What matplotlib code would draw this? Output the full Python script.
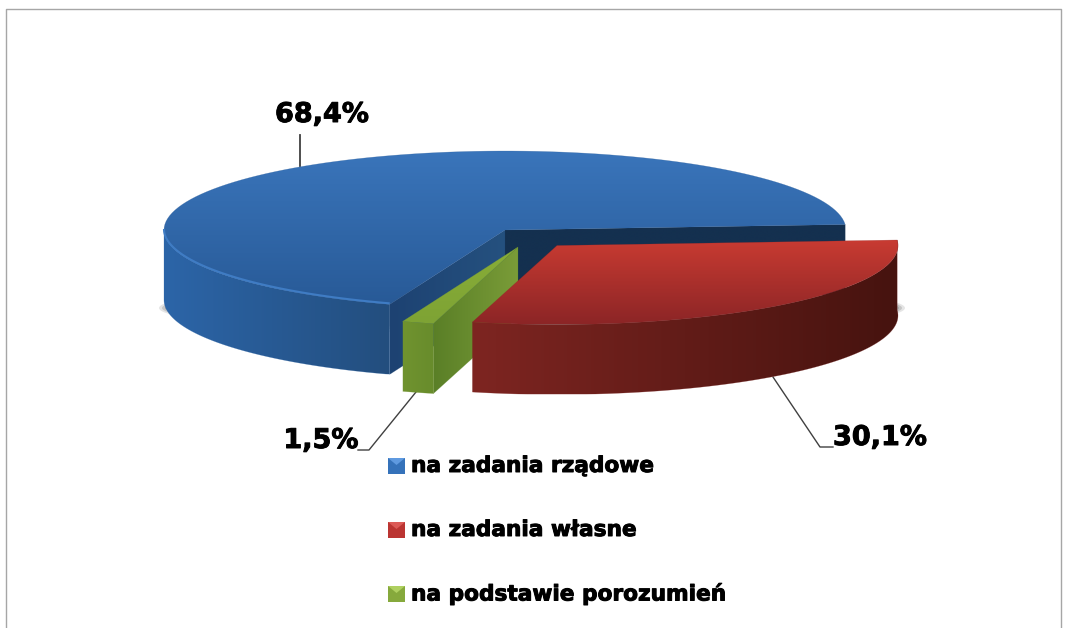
import numpy as np
import matplotlib
matplotlib.use('Agg')
import matplotlib.pyplot as plt
import matplotlib.patheffects as pe
from matplotlib.patches import Polygon, Ellipse
from matplotlib.colors import LinearSegmentedColormap

# data
labels = ['na zadania rządowe', 'na zadania własne', 'na podstawie porozumień']
shares = [68.4, 30.1, 1.5]
pct_labels = ['68,4%', '30,1%', '1,5%']

# pie geometry in pixels
rx, ry, depth = 341, 79, 70
start = 4.0
centers = [(505, 230), (557, 245.5), (518, 247)]

# colors
top_cols = [('#3a75bb', '#285a97'), ('#c93b32', '#8c2526'), ('#88ad38', '#7ea334')]
wall_cols = [('#2c65a8', '#234e7e'), ('#7e2521', '#46130f'), ('#70932f', '#688c2c')]
radial_cols = [('#1d4272', '#25517f'), ('#000000', '#000000'), ('#5a7f27', '#7a9c38')]

fig = plt.figure(figsize=(10.67, 6.28), dpi=100)
ax = fig.add_axes([0, 0, 1, 1])
ax.set_xlim(0, 1067)
ax.set_ylim(628, 0)
ax.axis('off')

z = [10]
heavy = [pe.withStroke(linewidth=0.7, foreground='black')]


def grad(pts, c1, c2, vertical=True):
    # polygon filled with a linear gradient
    pts = np.array(pts)
    cm = LinearSegmentedColormap.from_list('g', [c1, c2])
    g = np.linspace(0, 1, 256)
    g = g.reshape(-1, 1) if vertical else g.reshape(1, -1)
    z[0] += 1
    im = ax.imshow(g, cmap=cm, aspect='auto', zorder=z[0], interpolation='bilinear',
                   extent=[pts[:, 0].min(), pts[:, 0].max(), pts[:, 1].max(), pts[:, 1].min()])
    clip = Polygon(pts, closed=True, transform=ax.transData)
    im.set_clip_path(clip)
    # thin edge to hide the jaggies of the clip
    ax.add_patch(Polygon(pts, closed=True, fill=False, ec=c2 if vertical else c1, lw=0.3, alpha=0.5, zorder=z[0]))


def arc(c, a1, a2, dy=0):
    t = np.radians(np.linspace(a1, a2, 120))
    return np.column_stack([c[0] + rx * np.cos(t), c[1] - ry * np.sin(t) + dy])


# shadow peeking out on both sides
for grow, al in zip([8, 5, 2], [0.2, 0.3, 0.4]):
    ax.add_patch(Ellipse((532, 308), 2 * (365 + grow), 2 * (18 + grow), fc='#808080', ec='none', alpha=al, zorder=1))

# angles of the slices, counted clockwise from the blue one
spans = [s * 3.6 for s in shares]
blue = (start, start + spans[0])
red = (start - spans[1], start)
green = (start - spans[1] - spans[2], start - spans[1])

# blue slice
c = centers[0]
a = arc(c, blue[0], blue[0], 0)[0]
grad([c, a, a + [0, depth], (c[0], c[1] + depth)], '#14304f', '#14304f')
b = arc(c, blue[1], blue[1], 0)[0]
grad([c, b, b + [0, depth], (c[0], c[1] + depth)], radial_cols[0][0], radial_cols[0][1], False)
front = arc(c, 180, blue[1])
grad(np.vstack([front, arc(c, 180, blue[1], depth)[::-1]]), wall_cols[0][0], wall_cols[0][1], False)
grad(np.vstack([[c], arc(c, *blue)]), top_cols[0][0], top_cols[0][1])
z[0] += 1
ax.plot(front[:, 0], front[:, 1] - 1, color='#3f7cc4', lw=1.5, zorder=z[0], solid_capstyle='butt')

# green slice
c = centers[2]
g2 = arc(c, green[1], green[1])[0]
grad([c, g2, g2 + [0, depth], (c[0], c[1] + depth)], radial_cols[2][0], radial_cols[2][1], False)
front = arc(c, green[0], green[1])
grad(np.vstack([front, arc(c, green[0], green[1], depth)[::-1]]), wall_cols[2][0], wall_cols[2][1], False)
grad(np.vstack([[c], front]), top_cols[2][0], top_cols[2][1])

# red slice
c = centers[1]
front = arc(c, red[0], red[1])
grad(np.vstack([front, arc(c, red[0], red[1], depth)[::-1]]), wall_cols[1][0], wall_cols[1][1], False)
grad(np.vstack([[c], front]), top_cols[1][0], top_cols[1][1])

# leader lines
lw = 1.0
ax.plot([300, 300], [135, 166], color='#404040', lw=1.3, zorder=5)
ax.plot([773, 820, 833], [377, 447, 447], color='#404040', lw=lw, zorder=5)
ax.plot([416, 369, 358], [392, 450, 450], color='#404040', lw=lw, zorder=5)

# percent labels
fs = 19.5
ax.text(322, 115, pct_labels[0], fontsize=fs, fontweight='bold', ha='center', va='center', color='black', path_effects=heavy)
ax.text(880, 438, pct_labels[1], fontsize=fs, fontweight='bold', ha='center', va='center', color='black', path_effects=heavy)
ax.text(321, 441, pct_labels[2], fontsize=fs, fontweight='bold', ha='center', va='center', color='black', path_effects=heavy)

# legend
leg_y = [466, 530, 594]
leg_cols = [('#3572ba', '#5f9ae0'), ('#bb3532', '#dc5a56'), ('#86a93c', '#afd060')]
for y, lab, (dark, light) in zip(leg_y, labels, leg_cols):
    z[0] += 1
    ax.add_patch(Polygon([(388, y - 8), (405, y - 8), (405, y + 8), (388, y + 8)], fc=dark, ec='none', zorder=z[0]))
    ax.add_patch(Polygon([(388, y - 8), (405, y - 8), (396.5, y - 1)], fc=light, ec='none', zorder=z[0]))
    ax.text(411, y, lab, fontsize=15.6, fontweight='bold', ha='left', va='center', color='black', path_effects=heavy)

# chart border
ax.plot([6, 6, 1061, 1061], [628, 9, 9, 628], color='#a6a6a6', lw=1, zorder=2)

ax.set_xlim(0, 1067)
ax.set_ylim(628, 0)
fig.savefig('out.png', dpi=100)
